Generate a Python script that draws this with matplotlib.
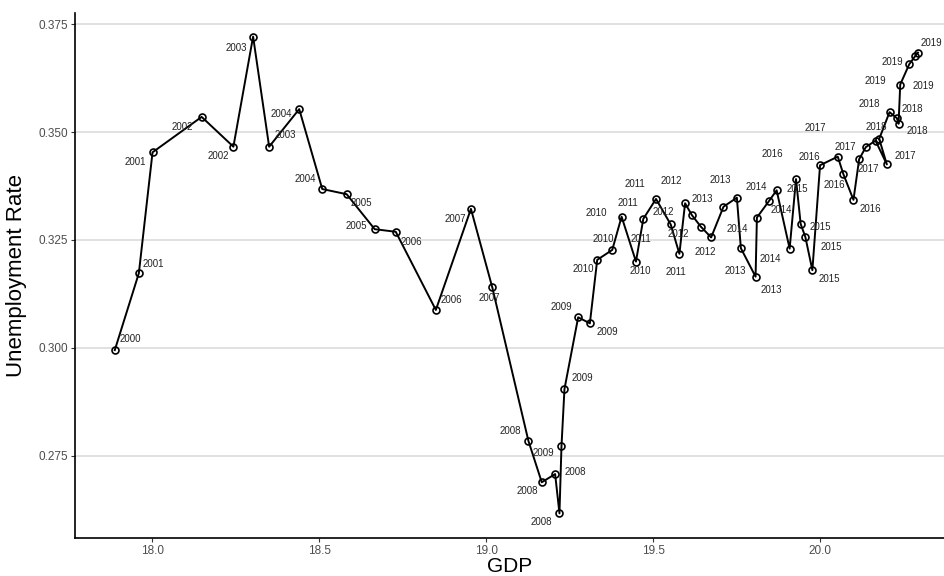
import matplotlib
matplotlib.use("Agg")
import matplotlib.pyplot as plt

plt.rcParams['font.family'] = ['Liberation Sans', 'DejaVu Sans']

# values, in path order
gdp = [17.888, 17.960, 18.001, 18.148, 18.243, 18.302, 18.350, 18.440,
       18.509, 18.582, 18.666, 18.729, 18.849, 18.954, 19.018,
       19.126, 19.166, 19.206, 19.219, 19.225, 19.234, 19.275, 19.310,
       19.332, 19.377, 19.405, 19.448, 19.470, 19.508, 19.552, 19.578,
       19.595, 19.615, 19.642, 19.673, 19.710, 19.750, 19.762, 19.806,
       19.810, 19.846, 19.869, 19.908, 19.927, 19.941, 19.955, 19.976,
       19.999, 20.052, 20.069, 20.099, 20.116, 20.136, 20.165, 20.199,
       20.176, 20.207, 20.229, 20.234, 20.239, 20.266, 20.284, 20.292]

unemp = [0.2995, 0.3173, 0.3453, 0.3535, 0.3466, 0.3721, 0.3466, 0.3553,
         0.3368, 0.3356, 0.3275, 0.3269, 0.3088, 0.3322, 0.3140,
         0.2785, 0.2689, 0.2708, 0.2617, 0.2772, 0.2905, 0.3071, 0.3057,
         0.3204, 0.3227, 0.3304, 0.3200, 0.3299, 0.3345, 0.3286, 0.3218,
         0.3335, 0.3308, 0.3281, 0.3256, 0.3327, 0.3348, 0.3231, 0.3165,
         0.3302, 0.3340, 0.3365, 0.3230, 0.3391, 0.3287, 0.3257, 0.3180,
         0.3423, 0.3443, 0.3402, 0.3343, 0.3437, 0.3465, 0.3480, 0.3425,
         0.3484, 0.3546, 0.3532, 0.3519, 0.3610, 0.3657, 0.3676, 0.3684]

years = [2000, 2001, 2001, 2002, 2002, 2003, 2003, 2004, 2004, 2005, 2005,
         2006, 2006, 2007, 2007]
for yr in range(2008, 2020):
    years += [yr] * 4

# label offsets in pixels (right, down), mimicking the repelled labels
label_offsets = [(16, -11), (14, -9), (-17, 10), (-19, 10), (-15, 9), (-17, 11),
                 (16, -12), (-18, 5), (-17, -10), (15, 9), (-18, -3), (16, 10),
                 (16, -10), (-16, 10), (-3, 11), (-18, -10), (-14, 9), (20, -2),
                 (-18, 9), (-18, 7), (18, -11), (-17, -10), (18, 9), (-14, 9),
                 (-9, -11), (-25, -4), (4, 9), (-15, -16), (-21, -15), (-30, 15),
                 (-3, 18), (-14, -22), (-28, -3), (-22, 7), (-6, 15), (-21, -8),
                 (-17, -18), (-6, 23), (16, 13), (-20, 11), (-13, -14), (5, 20),
                 (-19, 10), (1, 10), (20, 3), (26, 10), (17, 9), (-48, -11),
                 (-28, 0), (-9, 11), (17, 9), (9, 10), (-21, 0), (-60, -13),
                 (18, -8), (-3, -12), (-20, -8), (15, -9), (19, 7), (-25, -4),
                 (-17, -2), (8, 30), (13, -10)]

fig = plt.figure(figsize=(9.45, 5.76), dpi=100)
ax = fig.add_axes([0.0794, 0.066, 0.9206, 0.911])

ax.plot(gdp, unemp, color='black', linewidth=1.4, marker='o', markersize=5,
        markerfacecolor='none', markeredgecolor='black', markeredgewidth=1.2,
        zorder=3)

for x, y, yr, (dx, dy) in zip(gdp, unemp, years, label_offsets):
    ax.annotate(str(yr), (x, y), xytext=(dx, -dy), textcoords='offset pixels',
                ha='center', va='center', fontsize=7, color='#222222',
                annotation_clip=False, zorder=4)

ax.set_xlim(17.769, 20.373)
ax.set_ylim(0.2560, 0.3775)
ax.set_xticks([18.0, 18.5, 19.0, 19.5, 20.0])
ax.set_yticks([0.275, 0.300, 0.325, 0.350, 0.375])
ax.set_xticklabels(['18.0', '18.5', '19.0', '19.5', '20.0'])
ax.set_yticklabels(['0.275', '0.300', '0.325', '0.350', '0.375'])

ax.grid(axis='y', color='#D9D9D9', linewidth=1.1)
ax.set_axisbelow(True)
for side in ['top', 'right']:
    ax.spines[side].set_visible(False)
for side in ['left', 'bottom']:
    ax.spines[side].set_linewidth(1.2)
ax.tick_params(axis='both', labelsize=8.5, labelcolor='#4D4D4D', length=3,
               width=0.8, color='#333333', pad=2)

ax.set_xlabel('GDP', fontsize=15, labelpad=0)
ax.set_ylabel('Unemployment Rate', fontsize=16, labelpad=8)

fig.savefig('out.png', dpi=100)
